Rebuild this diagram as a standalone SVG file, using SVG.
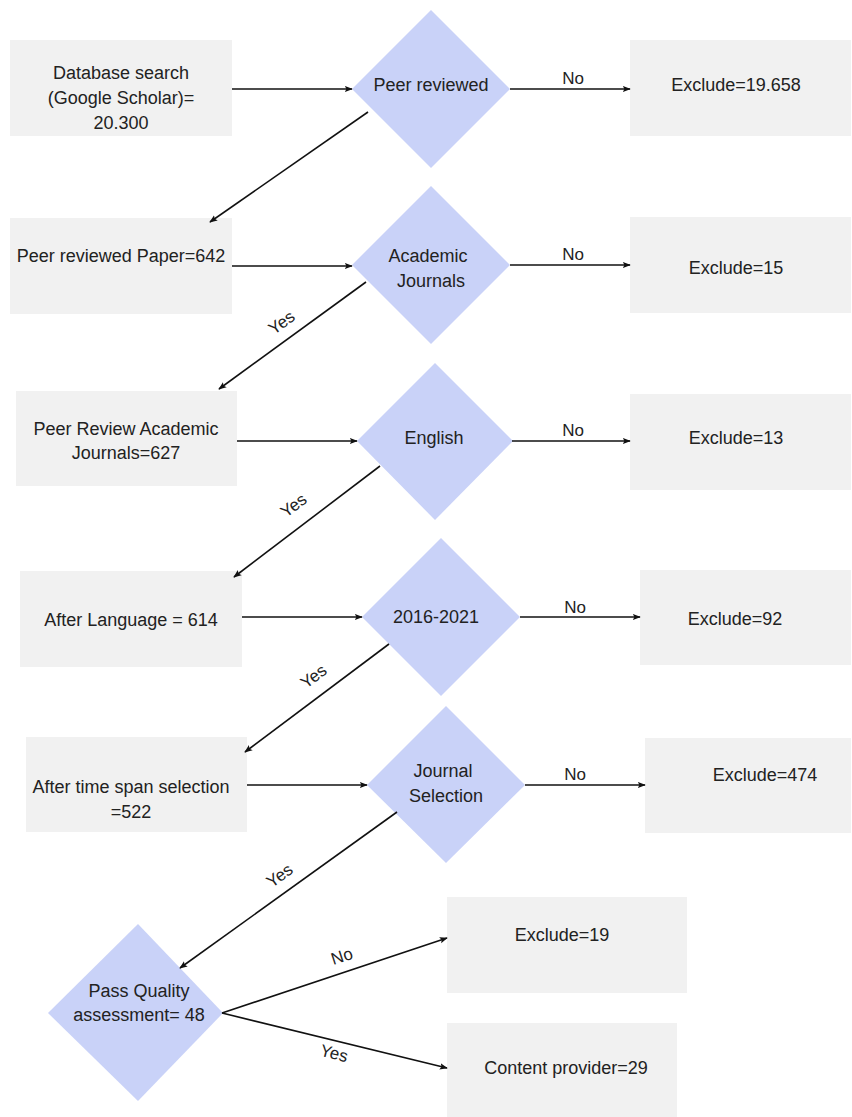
<svg xmlns="http://www.w3.org/2000/svg" width="852" height="1117" viewBox="0 0 852 1117">
  <style>
    .box { fill: #f1f1f1; }
    .dia { fill: #c9d2f8; }
    .t { font-family: "Liberation Sans", Arial, sans-serif; font-size: 18px; fill: #222; text-anchor: middle; }
    .lbl { font-family: "Liberation Sans", Arial, sans-serif; font-size: 17px; fill: #222; text-anchor: middle; }
    .edge { stroke: #111; stroke-width: 1.6; fill: none; marker-end: url(#arrow); }
  </style>
  <defs>
    <marker id="arrow" viewBox="0 0 10 10" refX="9" refY="5" markerWidth="5" markerHeight="5" orient="auto" markerUnits="strokeWidth">
      <path d="M0,1 L10,5 L0,9 L2,5 Z" fill="#111"/>
    </marker>
  </defs>
  <rect width="852" height="1117" fill="#ffffff"/>

  <!-- process boxes -->
  <g id="db-search">
    <rect class="box" x="10" y="40" width="222" height="96"/>
    <text class="t" x="121" y="79">Database search</text>
    <text class="t" x="121" y="104">(Google Scholar)=</text>
    <text class="t" x="121" y="129">20.300</text>
  </g>
  <g id="peer-paper">
    <rect class="box" x="10" y="218" width="222" height="96"/>
    <text class="t" x="121" y="262">Peer reviewed Paper=642</text>
  </g>
  <g id="peer-academic">
    <rect class="box" x="16" y="391" width="221" height="95"/>
    <text class="t" x="126" y="435">Peer Review Academic</text>
    <text class="t" x="126" y="459">Journals=627</text>
  </g>
  <g id="after-language">
    <rect class="box" x="20" y="571" width="222" height="96"/>
    <text class="t" x="131" y="626">After Language = 614</text>
  </g>
  <g id="after-timespan">
    <rect class="box" x="26" y="737" width="221" height="95"/>
    <text class="t" x="131" y="793">After time span selection</text>
    <text class="t" x="131" y="818">=522</text>
  </g>

  <!-- decisions -->
  <g id="d-peer">
    <polygon class="dia" points="431,10 510,89 431,168 352,89"/>
    <text class="t" x="431" y="91">Peer reviewed</text>
  </g>
  <g id="d-academic">
    <polygon class="dia" points="431,186 510,265 431,344 352,265"/>
    <text class="t" x="428" y="262">Academic</text>
    <text class="t" x="431" y="287">Journals</text>
  </g>
  <g id="d-english">
    <polygon class="dia" points="435,363 513,441 435,520 357,441"/>
    <text class="t" x="434" y="444">English</text>
  </g>
  <g id="d-years">
    <polygon class="dia" points="441,538 520,617 441,696 362,617"/>
    <text class="t" x="436" y="623">2016-2021</text>
  </g>
  <g id="d-journal">
    <polygon class="dia" points="446,706 525,785 446,863 367,785"/>
    <text class="t" x="443" y="777">Journal</text>
    <text class="t" x="446" y="802">Selection</text>
  </g>
  <g id="d-quality">
    <polygon class="dia" points="138,924 223,1013 138,1101 48,1013"/>
    <text class="t" x="139" y="997">Pass Quality</text>
    <text class="t" x="139" y="1021">assessment= 48</text>
  </g>

  <!-- exclusion / result boxes -->
  <g id="ex-19658">
    <rect class="box" x="630" y="40" width="221" height="96"/>
    <text class="t" x="736" y="91">Exclude=19.658</text>
  </g>
  <g id="ex-15">
    <rect class="box" x="630" y="217" width="221" height="96"/>
    <text class="t" x="736" y="274">Exclude=15</text>
  </g>
  <g id="ex-13">
    <rect class="box" x="630" y="394" width="221" height="96"/>
    <text class="t" x="736" y="444">Exclude=13</text>
  </g>
  <g id="ex-92">
    <rect class="box" x="640" y="570" width="211" height="95"/>
    <text class="t" x="735" y="625">Exclude=92</text>
  </g>
  <g id="ex-474">
    <rect class="box" x="645" y="738" width="206" height="95"/>
    <text class="t" x="765" y="781">Exclude=474</text>
  </g>
  <g id="ex-19">
    <rect class="box" x="447" y="897" width="240" height="96"/>
    <text class="t" x="562" y="941">Exclude=19</text>
  </g>
  <g id="content">
    <rect class="box" x="447" y="1023" width="230" height="94"/>
    <text class="t" x="566" y="1074">Content provider=29</text>
  </g>

  <!-- connectors, drawn last so arrowheads sit on top of the shapes -->
  <g id="connectors">
    <line class="edge" x1="232" y1="89" x2="352" y2="89"/>
    <line class="edge" x1="510" y1="89" x2="630" y2="89"/>
    <line class="edge" x1="368" y1="112" x2="210" y2="222"/>

    <line class="edge" x1="232" y1="266" x2="352" y2="266"/>
    <line class="edge" x1="510" y1="265" x2="630" y2="265"/>
    <line class="edge" x1="366" y1="282" x2="219" y2="389"/>

    <line class="edge" x1="237" y1="441" x2="357" y2="441"/>
    <line class="edge" x1="512" y1="441" x2="630" y2="441"/>
    <line class="edge" x1="380" y1="466" x2="234" y2="577"/>

    <line class="edge" x1="242" y1="617" x2="362" y2="617"/>
    <line class="edge" x1="520" y1="617" x2="640" y2="617"/>
    <line class="edge" x1="389" y1="644" x2="245" y2="752"/>

    <line class="edge" x1="247" y1="785" x2="367" y2="785"/>
    <line class="edge" x1="525" y1="785" x2="645" y2="785"/>
    <line class="edge" x1="397" y1="812" x2="180" y2="968"/>

    <line class="edge" x1="222" y1="1013" x2="447" y2="938"/>
    <line class="edge" x1="222" y1="1013" x2="447" y2="1068"/>

    <text class="lbl" x="573" y="84">No</text>
    <text class="lbl" x="573" y="260">No</text>
    <text class="lbl" x="573" y="436">No</text>
    <text class="lbl" x="575" y="613">No</text>
    <text class="lbl" x="575" y="780">No</text>
    <text class="lbl" transform="translate(282,323) rotate(-36)" y="5">Yes</text>
    <text class="lbl" transform="translate(294,506) rotate(-37)" y="5">Yes</text>
    <text class="lbl" transform="translate(314,677) rotate(-37)" y="5">Yes</text>
    <text class="lbl" transform="translate(280,876) rotate(-36)" y="5">Yes</text>
    <text class="lbl" transform="translate(342,957) rotate(-18)" y="5">No</text>
    <text class="lbl" transform="translate(334,1054) rotate(14)" y="5">Yes</text>
  </g>
</svg>
